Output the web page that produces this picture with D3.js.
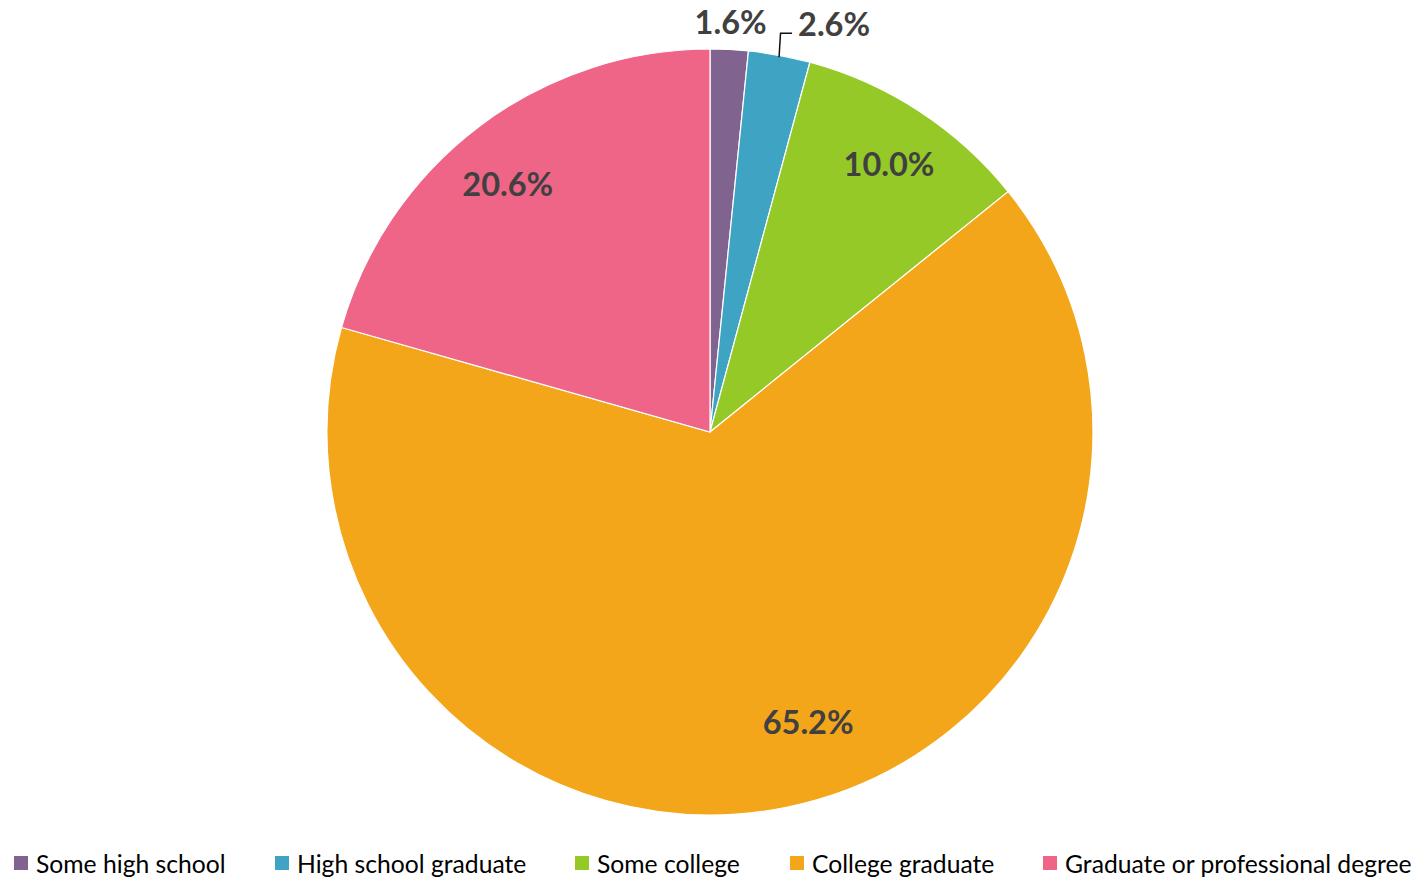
<!DOCTYPE html>
<html>
<head>
<meta charset="utf-8">
<script src="https://cdn.jsdelivr.net/npm/d3@7"></script>
<style>
  html, body { margin: 0; padding: 0; background: #fff; }
  svg { display: block; }
</style>
</head>
<body>
<svg id="chart" width="1422" height="879"></svg>
<script>
// Education level breakdown
const categories = ["Some high school", "High school graduate", "Some college", "College graduate", "Graduate or professional degree"];
const shares = [1.6, 2.6, 10.0, 65.2, 20.6];
const colors = ["#80638F", "#3FA4C4", "#95C928", "#F4A61A", "#EF6587"];

const W = 1422, H = 879;
const cx = 710, cy = 432, R = 383;

const svg = d3.select("#chart");
svg.append("rect").attr("width", W).attr("height", H).attr("fill", "#fff");

const data = categories.map((c, i) => ({ name: c, value: shares[i], color: colors[i] }));

const pie = d3.pie().value(d => d.value).sort(null);
const arcs = pie(data);
const arc = d3.arc().innerRadius(0).outerRadius(R);

const g = svg.append("g").attr("transform", `translate(${cx},${cy})`);

g.selectAll("path.slice")
  .data(arcs)
  .join("path")
  .attr("class", "slice")
  .attr("d", arc)
  .attr("fill", d => d.data.color)
  .attr("stroke", "#fff")
  .attr("stroke-width", 1.2);

const fmt = d3.format(".1f");
const labelFont = "Lato, 'Open Sans', sans-serif";
const labelSize = 32.5;

// label placement: radius as fraction of R and angle tweak (radians) from slice middle
const labelRadius = [1.07, 1.0, 0.8415, 0.80, 0.8355];
const labelTurn = [0, 0, 0.011, -0.125, -0.037];

// angle helpers (d3 angles: 0 at 12 o'clock, clockwise)
const pt = (a, r) => [Math.sin(a) * r, -Math.cos(a) * r];

const addLabel = (x, y, anchor, txt) =>
  g.append("text")
    .attr("x", x).attr("y", y)
    .attr("dy", "0.36em")
    .attr("text-anchor", anchor)
    .attr("font-family", labelFont)
    .attr("font-weight", 700)
    .attr("font-size", labelSize)
    .attr("fill", "#404040")
    .text(txt);

arcs.forEach((d, i) => {
  const mid = (d.startAngle + d.endAngle) / 2;
  const txt = fmt(d.data.value) + "%";
  if (i === 1) {
    // outside label with leader line
    const [ex, ey] = pt(mid, R - 2);
    const ky = ey - 24;
    g.append("path")
      .attr("d", `M${ex},${ey} L${ex + 1.5},${ky} L${ex + 13},${ky}`)
      .attr("fill", "none")
      .attr("stroke", "#111")
      .attr("stroke-width", 1.5);
    addLabel(ex + 19, ky - 9, "start", txt);
  } else {
    const [x, y] = pt(mid + labelTurn[i], R * labelRadius[i]);
    addLabel(x, y, "middle", txt);
  }
});

// legend
const legendX = [14, 275, 575, 790, 1043];
const legend = svg.append("g");
data.forEach((d, i) => {
  const item = legend.append("g").attr("transform", `translate(${legendX[i]},863)`);
  item.append("rect").attr("x", 0).attr("y", -7).attr("width", 14).attr("height", 14).attr("fill", d.color);
  item.append("text")
    .attr("x", 22).attr("y", 0)
    .attr("dominant-baseline", "central")
    .attr("font-family", labelFont)
    .attr("font-size", 24.7)
    .attr("fill", "#000")
    .text(d.name);
});
</script>
</body>
</html>
